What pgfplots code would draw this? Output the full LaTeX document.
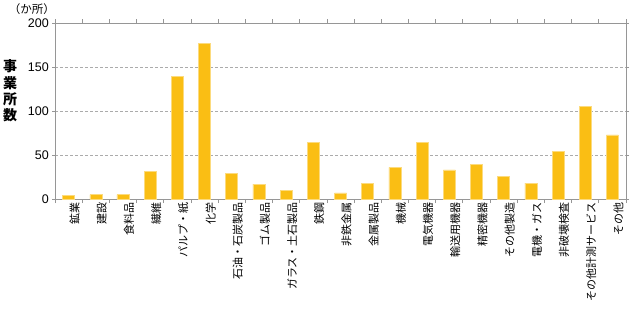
\documentclass[border=0pt]{standalone}
\usepackage{pgfplots}
\pgfplotsset{compat=1.18}
\usepackage{fontspec}
\setmainfont{Liberation Sans}
\newfontfamily\jp{Noto Sans CJK JP}
\definecolor{barc}{RGB}{250,190,20}
\definecolor{axc}{RGB}{150,150,150}
\begin{document}
\begin{tikzpicture}[x=1pt,y=1pt]
\useasboundingbox (0,0) rectangle (630,317);
\begin{axis}[
  at={(55pt,118pt)}, anchor=south west,
  scale only axis, width=571pt, height=176pt,
  xmin=-0.5, xmax=20.5, ymin=0, ymax=200,
  ytick={0,50,100,150,200},
  xtick={0,...,20},
  xticklabels={鉱業,建設,食料品,繊維,パルプ・紙,化学,石油・石炭製品,ゴム製品,ガラス・土石製品,鉄鋼,非鉄金属,金属製品,機械,電気機器,輸送用機器,精密機器,その他製造,電機・ガス,非破壊検査,その他計測サービス,その他},
  minor xtick={-0.5,0.5,...,20.5},
  tick align=outside,
  major tick length=3pt,
  minor tick length=4pt,
  major x tick style={draw=none},
  minor x tick style={draw=axc, line width=0.8pt},
  ytick style={draw=axc, line width=0.8pt},
  axis line style={draw=axc, line width=1pt},
  ymajorgrids,
  major grid style={draw=axc!80, dash pattern=on 3pt off 2pt, line width=0.8pt},
  xticklabel style={rotate=90, anchor=east, font=\jp\fontsize{11}{12}\selectfont, inner sep=0pt, yshift=-6pt},
  yticklabel style={font=\fontsize{12.5}{13}\selectfont, inner sep=1pt, xshift=-2pt},
  /pgf/number format/assume math mode=true,
]
\addplot[ybar, bar width=12pt, fill=barc, draw=barc!55!white, line width=0.5pt] coordinates {
(0,4) (1,5) (2,5) (3,31) (4,139) (5,177) (6,29) (7,17) (8,10) (9,64) (10,7)
(11,18) (12,36) (13,64) (14,33) (15,39) (16,26) (17,18) (18,54) (19,105) (20,73)
};
\end{axis}
\node[font=\jp\bfseries\fontsize{14}{15.5}\selectfont, align=center, inner sep=0pt] at (10,226) {\shortstack{事\\業\\所\\数}};
\node[font=\jp\fontsize{11.5}{13}\selectfont, inner sep=0pt] at (32,308) {（か所）};
\end{tikzpicture}
\end{document}
